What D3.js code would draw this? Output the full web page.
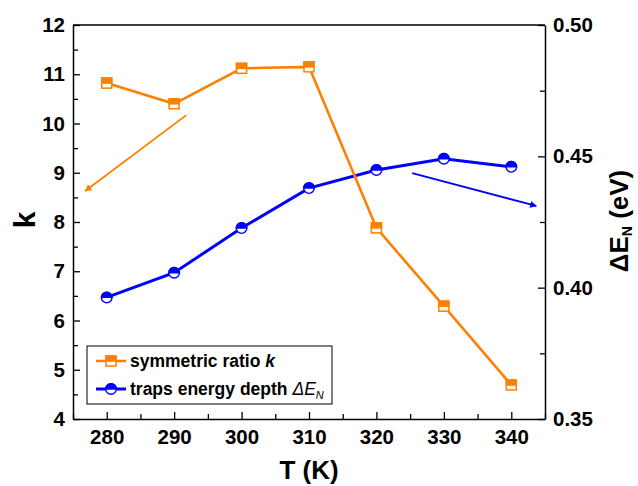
<!DOCTYPE html>
<html>
<head>
<meta charset="utf-8">
<script src="https://cdn.jsdelivr.net/npm/d3@7/dist/d3.min.js"></script>
<style>
  html, body { margin: 0; padding: 0; background: #fff; }
  svg { display: block; }
  text { font-family: "Liberation Sans", Arial, sans-serif; font-weight: bold; fill: #000; }
</style>
</head>
<body>
<svg id="chart" width="638" height="486"></svg>
<script>
// Temperatures (K)
const temps = [280, 290, 300, 310, 320, 330, 340];
// Symmetric ratio k (left axis)
const kValues = [10.82, 10.40, 11.12, 11.15, 7.88, 6.29, 4.69];
// Traps energy depth ΔE_N in eV (right axis)
const dEValues = [0.3963, 0.4057, 0.4227, 0.4379, 0.4448, 0.4491, 0.4460];

const xTicks = [280, 290, 300, 310, 320, 330, 340];
const kTicks = [4, 5, 6, 7, 8, 9, 10, 11, 12];
const eTicks = [0.35, 0.40, 0.45, 0.50];

// Annotation arrows, in data units: [T0, v0, T1, v1]
const kArrow = [291.8, 10.17, 276.8, 8.63];
const eArrow = [325.3, 0.4436, 343.7, 0.4311];

const ORANGE = "#FF8000";
const BLUE = "#0000FF";

const m = { left: 73, right: 545, top: 25, bottom: 419 };
const svg = d3.select("#chart");

const x = d3.scaleLinear().domain([275, 345]).range([m.left, m.right]);
const yK = d3.scaleLinear().domain([4, 12]).range([m.bottom, m.top]);
const yE = d3.scaleLinear().domain([0.35, 0.50]).range([m.bottom, m.top]);

const defs = svg.append("defs");
function arrowMarker(id, color) {
  defs.append("marker")
    .attr("id", id).attr("viewBox", "0 0 10 10")
    .attr("refX", 9).attr("refY", 5)
    .attr("markerWidth", 7).attr("markerHeight", 7)
    .attr("markerUnits", "userSpaceOnUse")
    .attr("orient", "auto")
    .append("path").attr("d", "M0,0 L10,5 L0,10 Z").attr("fill", color);
}
arrowMarker("arrO", ORANGE);
arrowMarker("arrB", BLUE);

// Frame top edge
svg.append("line").attr("x1", m.left).attr("x2", m.right)
  .attr("y1", m.top).attr("y2", m.top).attr("stroke", "#000").attr("stroke-width", 1.5);

function styleAxis(g) {
  g.selectAll(".domain").attr("stroke", "#000").attr("stroke-width", 1.5);
  g.selectAll(".tick line").attr("stroke", "#000").attr("stroke-width", 1.3);
  g.selectAll(".tick text").style("font-size", "20.5px").style("font-weight", "bold")
    .style("font-family", '"Liberation Sans", Arial, sans-serif').attr("fill", "#000");
}

// Bottom axis with inward ticks
const gx = svg.append("g").attr("transform", `translate(0,${m.bottom})`);
gx.call(d3.axisBottom(x).tickValues(d3.range(275, 346, 5)).tickSize(-5).tickSizeOuter(0)
  .tickFormat(d => xTicks.includes(d) ? d : ""));
gx.selectAll(".tick").filter(d => xTicks.includes(d)).select("line").attr("y2", -7);
gx.selectAll(".tick text").attr("dy", "1.07em");
styleAxis(gx);

// Left axis
const gl = svg.append("g").attr("transform", `translate(${m.left},0)`);
gl.call(d3.axisLeft(yK).tickValues(d3.range(4, 12.01, 0.5)).tickSize(-5).tickSizeOuter(0)
  .tickFormat(d => kTicks.includes(d) ? d : ""));
gl.selectAll(".tick").filter(d => kTicks.includes(d)).select("line").attr("x2", 7);
gl.selectAll(".tick text").attr("x", -8);
styleAxis(gl);

// Right axis
const gr = svg.append("g").attr("transform", `translate(${m.right},0)`);
gr.call(d3.axisRight(yE).tickValues(d3.range(0, 7).map(i => 0.35 + i * 0.025)).tickSize(-5).tickSizeOuter(0)
  .tickFormat(d => eTicks.some(t => Math.abs(t - d) < 1e-9) ? d3.format(".2f")(d) : ""));
gr.selectAll(".tick").filter(d => eTicks.some(t => Math.abs(t - d) < 1e-9)).select("line").attr("x2", -7);
gr.selectAll(".tick text").attr("x", 8);
styleAxis(gr);

// Axis titles
svg.append("text").attr("x", 309).attr("y", 479)
  .attr("text-anchor", "middle").style("font-size", "26px").text("T (K)");
svg.append("text").attr("transform", "translate(35,220) rotate(-90)")
  .attr("text-anchor", "middle").style("font-size", "30px").text("k");
const rt = svg.append("text").attr("transform", "translate(628,221) rotate(-90)")
  .attr("text-anchor", "middle").style("font-size", "26px");
rt.append("tspan").text("\u0394E");
rt.append("tspan").attr("dy", 4).style("font-size", "14px").text("N");
rt.append("tspan").attr("dy", -4).text(" (eV)");

// Arrows
svg.append("line")
  .attr("x1", x(kArrow[0])).attr("y1", yK(kArrow[1]))
  .attr("x2", x(kArrow[2])).attr("y2", yK(kArrow[3]))
  .attr("stroke", ORANGE).attr("stroke-width", 1.8).attr("marker-end", "url(#arrO)");
svg.append("line")
  .attr("x1", x(eArrow[0])).attr("y1", yE(eArrow[1]))
  .attr("x2", x(eArrow[2])).attr("y2", yE(eArrow[3]))
  .attr("stroke", BLUE).attr("stroke-width", 1.8).attr("marker-end", "url(#arrB)");

// Series lines
const kPts = temps.map((t, i) => [t, kValues[i]]);
const ePts = temps.map((t, i) => [t, dEValues[i]]);
svg.append("path").datum(ePts)
  .attr("d", d3.line().x(d => x(d[0])).y(d => yE(d[1])))
  .attr("fill", "none").attr("stroke", BLUE).attr("stroke-width", 3);
svg.append("path").datum(kPts)
  .attr("d", d3.line().x(d => x(d[0])).y(d => yK(d[1])))
  .attr("fill", "none").attr("stroke", ORANGE).attr("stroke-width", 2.6);

// Half-filled markers
function squareMarker(g, cx, cy) {
  const s = 10;
  g.append("rect").attr("x", cx - s / 2).attr("y", cy - s / 2).attr("width", s).attr("height", s)
    .attr("fill", "#fff").attr("stroke", ORANGE).attr("stroke-width", 1.5);
  g.append("rect").attr("x", cx - s / 2).attr("y", cy - s / 2).attr("width", s).attr("height", s / 2)
    .attr("fill", ORANGE).attr("stroke", ORANGE).attr("stroke-width", 1.5);
}
function circleMarker(g, cx, cy) {
  const r = 5.3;
  g.append("circle").attr("cx", cx).attr("cy", cy).attr("r", r)
    .attr("fill", "#fff").attr("stroke", BLUE).attr("stroke-width", 1.4);
  g.append("path")
    .attr("d", `M${cx - r},${cy} A${r},${r} 0 0 1 ${cx + r},${cy} Z`)
    .attr("fill", BLUE).attr("stroke", BLUE).attr("stroke-width", 1.4);
}
const gE = svg.append("g");
ePts.forEach(d => circleMarker(gE, x(d[0]), yE(d[1])));
const gK = svg.append("g");
kPts.forEach(d => squareMarker(gK, x(d[0]), yK(d[1])));

// Legend
const lg = svg.append("g");
lg.append("rect").attr("x", 87).attr("y", 346).attr("width", 245).attr("height", 58)
  .attr("fill", "#fff").attr("stroke", "#000").attr("stroke-width", 1);
lg.append("line").attr("x1", 96).attr("x2", 126).attr("y1", 361).attr("y2", 361)
  .attr("stroke", ORANGE).attr("stroke-width", 2.6);
squareMarker(lg, 111, 361);
lg.append("line").attr("x1", 96).attr("x2", 126).attr("y1", 389).attr("y2", 389)
  .attr("stroke", BLUE).attr("stroke-width", 3);
circleMarker(lg, 111, 389);
const t1 = lg.append("text").attr("x", 130).attr("y", 367).style("font-size", "17.5px");
t1.append("tspan").text("symmetric ratio ");
t1.append("tspan").style("font-style", "italic").text("k");
const t2 = lg.append("text").attr("x", 130).attr("y", 395).style("font-size", "17.5px");
t2.append("tspan").text("traps energy depth ");
t2.append("tspan").style("font-style", "italic").style("font-weight", "normal").text("\u0394E");
t2.append("tspan").attr("dy", 4).style("font-style", "italic").style("font-weight", "normal").style("font-size", "11px").text("N");
</script>
</body>
</html>
